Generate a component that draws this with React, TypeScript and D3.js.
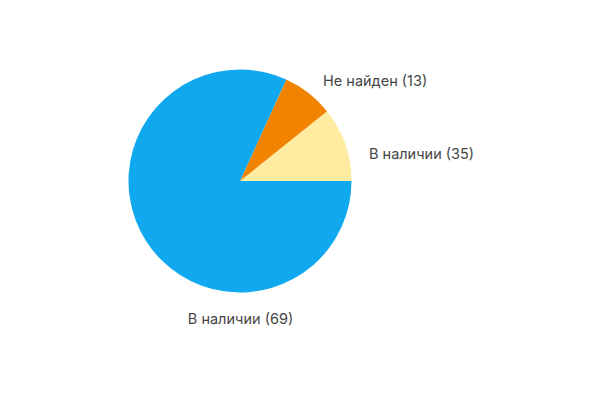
import React, { useRef, useEffect } from 'react';
import * as d3 from 'd3';

// Slice labels and the counts printed next to them
const categories = ['В наличии', 'Не найден', 'В наличии'];
const counts = [35, 13, 69];
// Slice sizes (angles do not follow the printed counts)
const sliceValues = [13, 9, 99];
const colors = ['#ffeca1', '#f28300', '#10a8ee'];

const PieChart = () => {
  const svgRef = useRef<SVGSVGElement>(null);

  useEffect(() => {
    const svg = d3.select(svgRef.current);
    svg.selectAll('*').remove();

    const cx = 240;
    const cy = 181;
    const radius = 111.5;

    const g = svg.append('g').attr('transform', `translate(${cx},${cy})`);

    const data = sliceValues.map((v, i) => ({
      value: v,
      label: `${categories[i]} (${counts[i]})`,
      color: colors[i]
    }));

    // start at 3 o'clock, run counter-clockwise
    const pie = d3.pie<any>()
      .value(d => d.value)
      .sort(null)
      .startAngle(Math.PI / 2)
      .endAngle(Math.PI / 2 - 2 * Math.PI);

    const arc = d3.arc<any>().innerRadius(0).outerRadius(radius);
    const arcs = pie(data);

    g.selectAll('.slice')
      .data(arcs)
      .enter()
      .append('path')
      .attr('class', 'slice')
      .attr('d', arc)
      .attr('fill', d => d.data.color);

    // label anchors (offsets from the pie centre)
    const labelLayout = [
      { x: 129, y: -22.5, anchor: 'start' },
      { x: 83, y: -95.5, anchor: 'start' },
      { x: 0.5, y: 142.5, anchor: 'middle' }
    ];

    g.selectAll('.label')
      .data(arcs)
      .enter()
      .append('text')
      .attr('class', 'label')
      .attr('x', (d, i) => labelLayout[i].x)
      .attr('y', (d, i) => labelLayout[i].y)
      .attr('text-anchor', (d, i) => labelLayout[i].anchor)
      .style('font-family', 'Inter, "Noto Sans", sans-serif')
      .style('font-size', '14.5px')
      .style('fill', '#454545')
      .text(d => d.data.label);
  }, []);

  return (
    <svg
      ref={svgRef}
      width={600}
      height={400}
      style={{ position: 'absolute', left: 0, top: 0, display: 'block', background: '#fff' }}
    ></svg>
  );
};

export default function App() {
  return <PieChart />;
}
